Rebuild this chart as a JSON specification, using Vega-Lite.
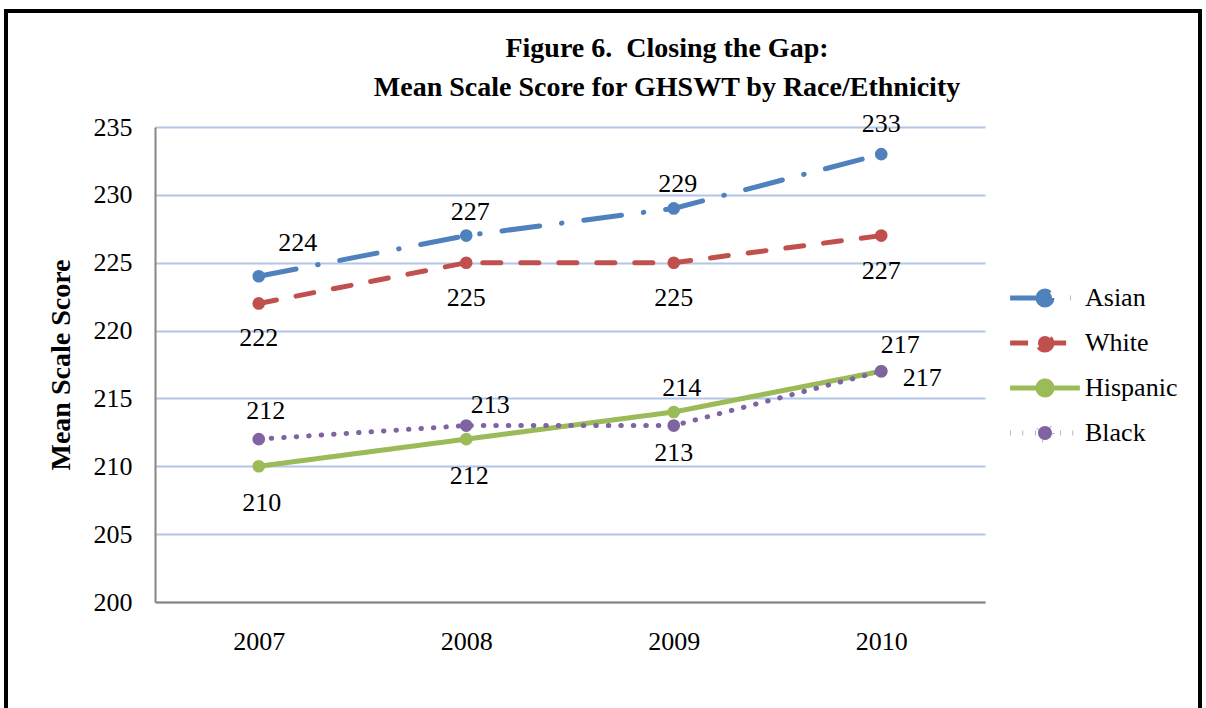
{
  "$schema": "https://vega.github.io/schema/vega-lite/v6.json",
  "autosize": {"type": "none"},
  "width": 830,
  "height": 475,
  "padding": {"left": 155, "top": 127, "right": 221, "bottom": 106},
  "background": "white",
  "config": {
    "font": "Times New Roman, Liberation Serif, serif",
    "view": {"stroke": null},
    "text": {"font": "Times New Roman, Liberation Serif, serif"},
    "legend": {"labelFont": "Times New Roman, Liberation Serif, serif"},
    "axis": {"labelFont": "Times New Roman, Liberation Serif, serif", "titleFont": "Times New Roman, Liberation Serif, serif", "labelColor": "black", "titleColor": "black"}
  },
  "title": {
    "text": ["Figure 6.\u00a0 Closing the Gap:", "Mean Scale Score for GHSWT by Race/Ethnicity"],
    "font": "Times New Roman, Liberation Serif, serif",
    "fontSize": 28,
    "fontWeight": "bold",
    "color": "black",
    "anchor": "middle",
    "frame": "group",
    "baseline": "bottom",
    "dx": 97,
    "lineHeight": 39,
    "offset": -121
  },
  "data": {
    "values": [
      {"year": "2007", "series": "Asian", "score": 224},
      {"year": "2008", "series": "Asian", "score": 227},
      {"year": "2009", "series": "Asian", "score": 229},
      {"year": "2010", "series": "Asian", "score": 233},
      {"year": "2007", "series": "White", "score": 222},
      {"year": "2008", "series": "White", "score": 225},
      {"year": "2009", "series": "White", "score": 225},
      {"year": "2010", "series": "White", "score": 227},
      {"year": "2007", "series": "Hispanic", "score": 210},
      {"year": "2008", "series": "Hispanic", "score": 212},
      {"year": "2009", "series": "Hispanic", "score": 214},
      {"year": "2010", "series": "Hispanic", "score": 217},
      {"year": "2007", "series": "Black", "score": 212},
      {"year": "2008", "series": "Black", "score": 213},
      {"year": "2009", "series": "Black", "score": 213},
      {"year": "2010", "series": "Black", "score": 217}
    ]
  },
  "encoding": {
    "x": {
      "field": "year", "type": "ordinal",
      "scale": {"type": "point", "padding": 0.5},
      "axis": {"title": null, "labelAngle": 0, "labelFont": "Times New Roman, Liberation Serif, serif", "labelFontSize": 26, "labelPadding": 26, "ticks": false, "domainColor": "#868686", "domainWidth": 2, "grid": false}
    },
    "y": {
      "field": "score", "type": "quantitative",
      "scale": {"domain": [200, 235], "nice": false, "zero": false},
      "axis": {"title": "Mean Scale Score", "titleFont": "Times New Roman, Liberation Serif, serif", "titleFontSize": 28, "titleFontWeight": "bold", "titlePadding": 18, "labelFont": "Times New Roman, Liberation Serif, serif", "labelFontSize": 26, "labelPadding": 23, "ticks": false, "values": [200, 205, 210, 215, 220, 225, 230, 235], "domainColor": "#868686", "domainWidth": 2, "grid": true, "gridColor": "#B3C6E7", "gridWidth": 2}
    }
  },
  "layer": [
    {
      "mark": {"type": "rect", "fill": null, "stroke": "black", "strokeWidth": 4},
      "encoding": {
        "x": {"value": -149}, "x2": {"value": 1045},
        "y": {"value": -116}, "y2": {"value": 720}
      },
      "data": {"values": [{"frame": 1}]}
    },
    {
      "mark": {"type": "line", "strokeWidth": 5, "strokeCap": "round"},
      "encoding": {
        "color": {
          "field": "series", "type": "nominal",
          "scale": {"domain": ["Asian", "White", "Hispanic", "Black"], "range": ["#4F81BD", "#C0504D", "#9BBB59", "#8064A2"]},
          "legend": {
            "title": null, "orient": "none", "legendX": 865, "legendY": 146,
            "labelFont": "Times New Roman, Liberation Serif, serif", "labelFontSize": 26, "labelColor": "black",
            "symbolType": "M-1.55,0L1.55,0M0.31,0A0.31,0.31,0,1,1,-0.31,0A0.31,0.31,0,1,1,0.31,0Z",
            "symbolSize": 2025, "symbolStrokeWidth": 5, "rowPadding": 3, "labelOffset": 15,
            "encode": {"symbols": {"update": {"fill": {"scale": "color", "field": "value"}, "fillOpacity": {"value": 1}}}}
          }
        },
        "strokeDash": {
          "field": "series", "type": "nominal",
          "scale": {"domain": ["Asian", "White", "Hispanic", "Black"], "range": [[38, 22, 0.5, 22], [18, 20], [1, 0], [0.5, 12]]},
          "legend": null
        },
        "detail": {"field": "series"}
      }
    },
    {
      "mark": {"type": "point", "filled": true, "size": 160, "opacity": 1},
      "encoding": {
        "color": {"field": "series", "type": "nominal", "legend": null}
      }
    },
    {
      "transform": [{"filter": "datum.series == 'Asian' && (datum.year == '2008' || datum.year == '2009')"}],
      "mark": {"type": "text", "fontSize": 26, "color": "black", "dy": -24, "dx": 4, "baseline": "middle"},
      "encoding": {"text": {"field": "score"}}
    },
    {
      "transform": [{"filter": "datum.series == 'Asian' && datum.year == '2010'"}],
      "mark": {"type": "text", "fontSize": 26, "color": "black", "dy": -30, "baseline": "middle"},
      "encoding": {"text": {"field": "score"}}
    },
    {
      "transform": [{"filter": "datum.series == 'Asian' && datum.year == '2007'"}],
      "mark": {"type": "text", "fontSize": 26, "color": "black", "dy": -33, "dx": 39, "baseline": "middle"},
      "encoding": {"text": {"field": "score"}}
    },
    {
      "transform": [{"filter": "datum.series == 'White'"}],
      "mark": {"type": "text", "fontSize": 26, "color": "black", "dy": 35, "baseline": "middle"},
      "encoding": {"text": {"field": "score"}}
    },
    {
      "transform": [{"filter": "datum.series == 'Hispanic' && (datum.year == '2007' || datum.year == '2008')"}],
      "mark": {"type": "text", "fontSize": 26, "color": "black", "dy": 37, "dx": 3, "baseline": "middle"},
      "encoding": {"text": {"field": "score"}}
    },
    {
      "transform": [{"filter": "datum.series == 'Hispanic' && datum.year == '2009'"}],
      "mark": {"type": "text", "fontSize": 26, "color": "black", "dy": -24, "dx": 8, "baseline": "middle"},
      "encoding": {"text": {"field": "score"}}
    },
    {
      "transform": [{"filter": "datum.series == 'Hispanic' && datum.year == '2010'"}],
      "mark": {"type": "text", "fontSize": 26, "color": "black", "dy": -26, "dx": 19, "baseline": "middle"},
      "encoding": {"text": {"field": "score"}}
    },
    {
      "transform": [{"filter": "datum.series == 'Black' && datum.year == '2007'"}],
      "mark": {"type": "text", "fontSize": 26, "color": "black", "dy": -28, "dx": 7, "baseline": "middle"},
      "encoding": {"text": {"field": "score"}}
    },
    {
      "transform": [{"filter": "datum.series == 'Black' && datum.year == '2008'"}],
      "mark": {"type": "text", "fontSize": 26, "color": "black", "dy": -21, "dx": 24, "baseline": "middle"},
      "encoding": {"text": {"field": "score"}}
    },
    {
      "transform": [{"filter": "datum.series == 'Black' && datum.year == '2009'"}],
      "mark": {"type": "text", "fontSize": 26, "color": "black", "dy": 27, "baseline": "middle"},
      "encoding": {"text": {"field": "score"}}
    },
    {
      "transform": [{"filter": "datum.series == 'Black' && datum.year == '2010'"}],
      "mark": {"type": "text", "fontSize": 26, "color": "black", "dy": 7, "dx": 41, "baseline": "middle"},
      "encoding": {"text": {"field": "score"}}
    }
  ]
}
